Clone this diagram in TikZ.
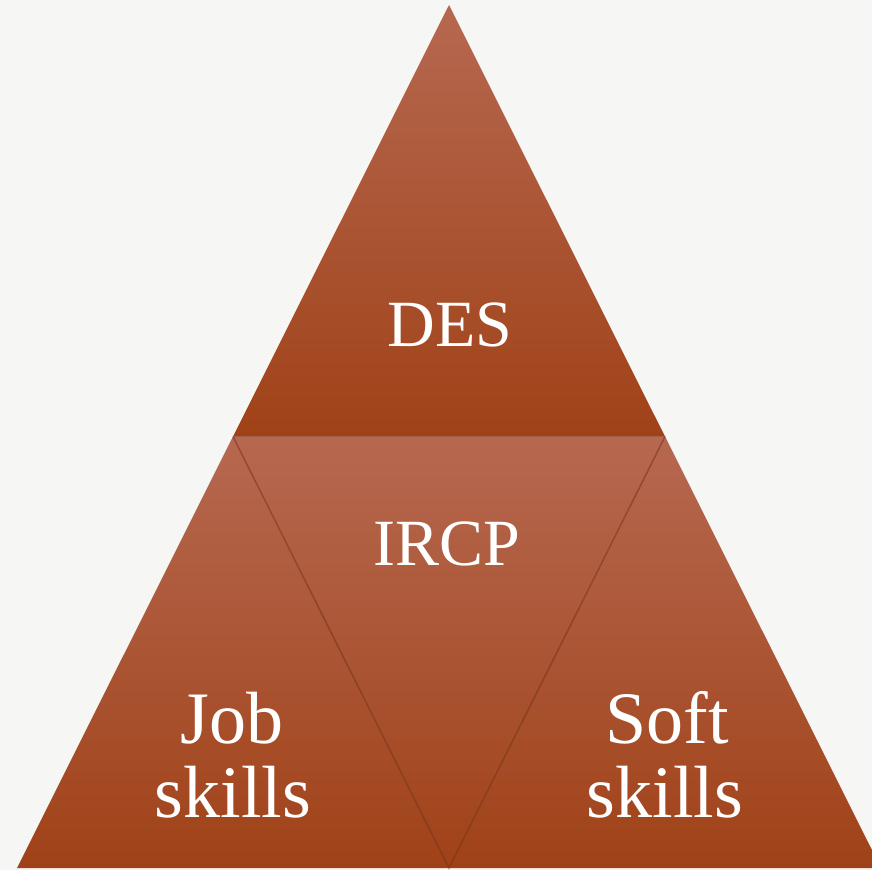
\documentclass[tikz,border=0pt]{standalone}
\usepackage{fontspec}
\setmainfont{Liberation Serif}
\usepackage{tikz}
\usetikzlibrary{positioning}

\definecolor{paper}{RGB}{246,246,244}
\definecolor{brickTop}{RGB}{182,104,80}
\definecolor{brickBot}{RGB}{160,66,24}
\definecolor{brickEdge}{RGB}{110,44,18}

\tikzset{
  part/.style={shade, top color=brickTop, bottom color=brickBot, draw=none},
  seam/.style={draw=brickEdge, line width=1.4pt, opacity=0.55},
  label/.style={text=white, anchor=base, inner sep=0pt},
  big/.style={font=\fontsize{66}{72}\selectfont},
  bigger/.style={font=\fontsize{74}{74}\selectfont}
}

\begin{document}
\begin{tikzpicture}[x=1pt,y=1pt]
   \fill[paper] (0,0) rectangle (872,870);
   \useasboundingbox (0,0) rectangle (872,870);
   \clip (0,0) rectangle (872,870);
   % corners of the pyramid
   \coordinate (apex) at (449,865);
   \coordinate (bl) at (17,2);
   \coordinate (br) at (881,2);
   \coordinate (ml) at (233,433.5);
   \coordinate (mr) at (665,433.5);
   \coordinate (mb) at (449,2);
   % four parts
   \path[part] (apex) -- (mr) -- (ml) -- cycle;
   \path[part] (ml) -- (mb) -- (bl) -- cycle;
   \path[part] (mr) -- (br) -- (mb) -- cycle;
   \path[part] (ml) -- (mr) -- (mb) -- cycle;
   \draw[seam] (ml) -- (mb) -- (mr);
   \draw[seam, line width=1pt, opacity=0.4] (ml) -- (mr);
   % texts
   \node[label, big] (des) at (450,523) {DES};
   \node[label, big] (ircp) at (447,304) {IRCP};
   \node[label, bigger] (job) at (232,127) {Job};
   \node[label, bigger] (jskills) at (233,53) {skills};
   \node[label, bigger] (soft) at (667,127) {Soft};
   \node[label, bigger] (sskills) at (665,53) {skills};
\end{tikzpicture}
\end{document}
